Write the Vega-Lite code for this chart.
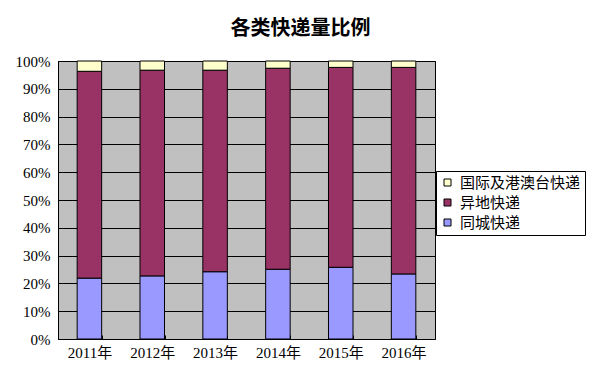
{
  "$schema": "https://vega.github.io/schema/vega-lite/v6.json",
  "width": 377,
  "height": 278,
  "autosize": {"type": "none"},
  "padding": {"left": 58, "top": 61, "right": 165, "bottom": 42},
  "background": "white",
  "title": {
    "text": "各类快递量比例",
    "font": "Noto Sans CJK SC",
    "fontSize": 20,
    "fontWeight": "bold",
    "color": "black",
    "anchor": "middle",
    "dx": 54,
    "offset": 15
  },
  "data": {
    "values": [
      {"year": "2011年", "type": "同城快递", "value": 21.9},
      {"year": "2011年", "type": "异地快递", "value": 74.4},
      {"year": "2011年", "type": "国际及港澳台快递", "value": 3.7},
      {"year": "2012年", "type": "同城快递", "value": 22.7},
      {"year": "2012年", "type": "异地快递", "value": 74.0},
      {"year": "2012年", "type": "国际及港澳台快递", "value": 3.3},
      {"year": "2013年", "type": "同城快递", "value": 24.2},
      {"year": "2013年", "type": "异地快递", "value": 72.5},
      {"year": "2013年", "type": "国际及港澳台快递", "value": 3.3},
      {"year": "2014年", "type": "同城快递", "value": 25.1},
      {"year": "2014年", "type": "异地快递", "value": 72.3},
      {"year": "2014年", "type": "国际及港澳台快递", "value": 2.6},
      {"year": "2015年", "type": "同城快递", "value": 25.8},
      {"year": "2015年", "type": "异地快递", "value": 71.9},
      {"year": "2015年", "type": "国际及港澳台快递", "value": 2.3},
      {"year": "2016年", "type": "同城快递", "value": 23.4},
      {"year": "2016年", "type": "异地快递", "value": 74.3},
      {"year": "2016年", "type": "国际及港澳台快递", "value": 2.3}
    ]
  },
  "transform": [
    {"calculate": "indexof(['同城快递','异地快递','国际及港澳台快递'], datum.type)", "as": "stackOrder"}
  ],
  "mark": {"type": "bar", "stroke": "black", "strokeWidth": 1},
  "encoding": {
    "x": {
      "field": "year",
      "type": "nominal",
      "title": null,
      "scale": {"paddingInner": 0.61, "paddingOuter": 0.305},
      "axis": {
        "labelAngle": 0,
        "labelFont": "Liberation Serif, Noto Sans CJK SC",
        "labelFontSize": 15,
        "labelColor": "black",
        "labelPadding": 10,
        "tickBand": "extent",
        "tickSize": -4,
        "tickColor": "black",
        "domainColor": "black",
        "grid": false
      }
    },
    "y": {
      "field": "value",
      "type": "quantitative",
      "stack": "normalize",
      "title": null,
      "scale": {"domain": [0, 1], "nice": false},
      "axis": {
        "values": [0, 0.1, 0.2, 0.3, 0.4, 0.5, 0.6, 0.7, 0.8, 0.9, 1],
        "format": ".0%",
        "labelFont": "Liberation Serif",
        "labelFontSize": 15,
        "labelColor": "black",
        "labelPadding": 8,
        "ticks": false,
        "domainColor": "black",
        "grid": true,
        "gridColor": "black",
        "gridOpacity": 1,
        "gridWidth": 1
      }
    },
    "color": {
      "field": "type",
      "type": "nominal",
      "scale": {
        "domain": ["国际及港澳台快递", "异地快递", "同城快递"],
        "range": ["#FFFFCC", "#993366", "#9999FF"]
      },
      "legend": {
        "title": null,
        "orient": "none",
        "legendX": 378,
        "legendY": 110,
        "direction": "vertical",
        "fillColor": "white",
        "strokeColor": "black",
        "padding": 4,
        "rowPadding": 4,
        "symbolType": "square",
        "symbolSize": 49,
        "symbolStrokeColor": "black",
        "symbolStrokeWidth": 1,
        "labelFont": "Noto Sans CJK SC",
        "labelFontSize": 15,
        "labelColor": "black",
        "labelOffset": 5,
        "labelLimit": 200
      }
    },
    "order": {"field": "stackOrder", "type": "quantitative"}
  },
  "config": {
    "view": {"fill": "#C0C0C0", "stroke": "black", "strokeWidth": 1}
  }
}
